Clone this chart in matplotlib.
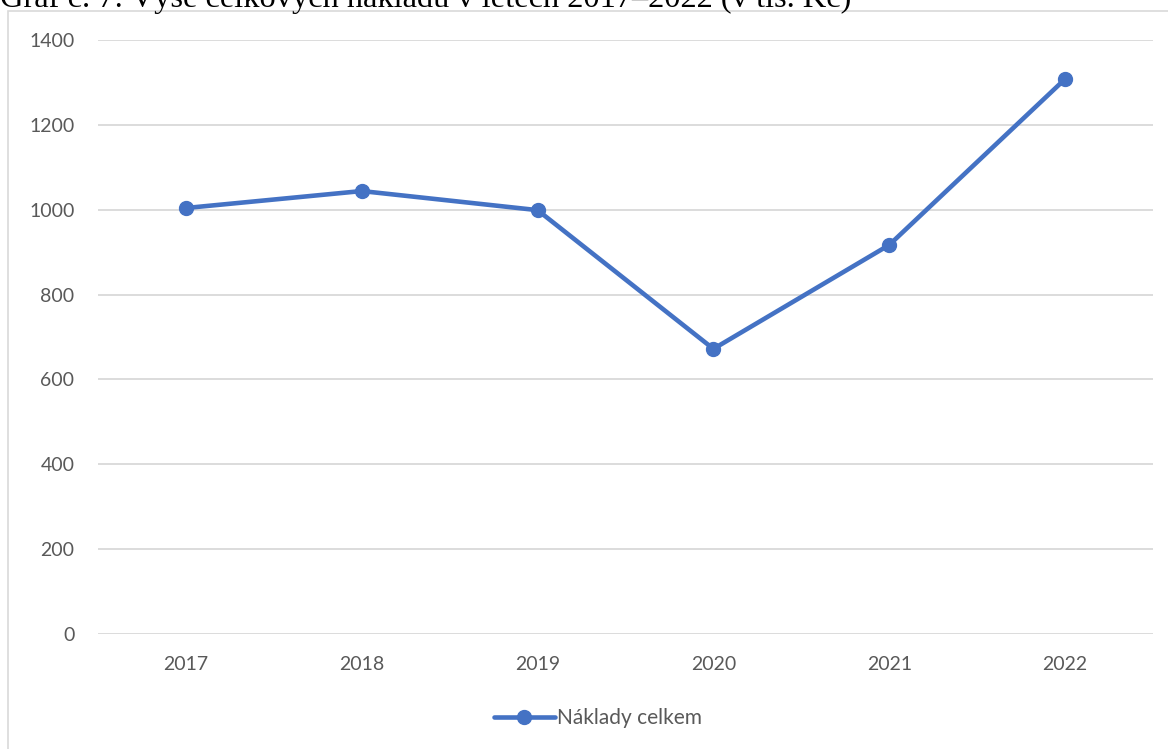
"""
plot.py
Line chart of total costs 2017-2022
"""

import matplotlib.pyplot as plt
from matplotlib.patches import Rectangle

years = ["2017", "2018", "2019", "2020", "2021", "2022"]
costs = [1004, 1044, 999, 672, 917, 1308]
y_ticks = [0, 200, 400, 600, 800, 1000, 1200, 1400]

title = "Graf č. 7: Výše celkových nákladů v letech 2017–2022 (v tis. Kč)"
series_name = "Náklady celkem"

W, H = 1168, 749
fig = plt.figure(figsize=(W / 100, H / 100), dpi=100)

# chart frame (cut at right and bottom like the source)
fig.patches.append(Rectangle((8 / W, -0.05), 1.2, 1 - 11 / H + 0.05,
                             transform=fig.transFigure, fill=False,
                             edgecolor="#d9d9d9", linewidth=1.2))

fig.text(0, 1 - 7 / H, title, family="Liberation Serif", fontsize=23.3,
         color="black", va="baseline", ha="left")

ax = fig.add_axes([98 / W, 1 - 634 / H, (1153 - 98) / W, (634 - 40) / H])
x = list(range(len(years)))
ax.plot(x, costs, color="#4472C4", linewidth=3.3, marker="o",
        markersize=10, label=series_name, solid_capstyle="round")

ax.set_xlim(-0.5, len(years) - 0.5)
ax.set_ylim(0, 1400)
ax.set_yticks(y_ticks)
ax.set_xticks(x)
ax.set_xticklabels(years)
ax.grid(axis="y", color="#d9d9d9", linewidth=1.3)
ax.set_axisbelow(True)
for s in ax.spines.values():
    s.set_visible(False)
ax.tick_params(length=0, labelcolor="#595959", labelsize=14)
ax.tick_params(axis="y", pad=17)
ax.tick_params(axis="x", pad=16)
for lbl in ax.get_xticklabels() + ax.get_yticklabels():
    lbl.set_family("Lato")

leg = ax.legend(loc="center", bbox_to_anchor=(598 / W, 1 - 718 / H),
                bbox_transform=fig.transFigure, frameon=False,
                handlelength=2.9, handletextpad=0.1,
                prop={"family": "Lato", "size": 15})
for t in leg.get_texts():
    t.set_color("#595959")

fig.savefig("out.png", dpi=100)
